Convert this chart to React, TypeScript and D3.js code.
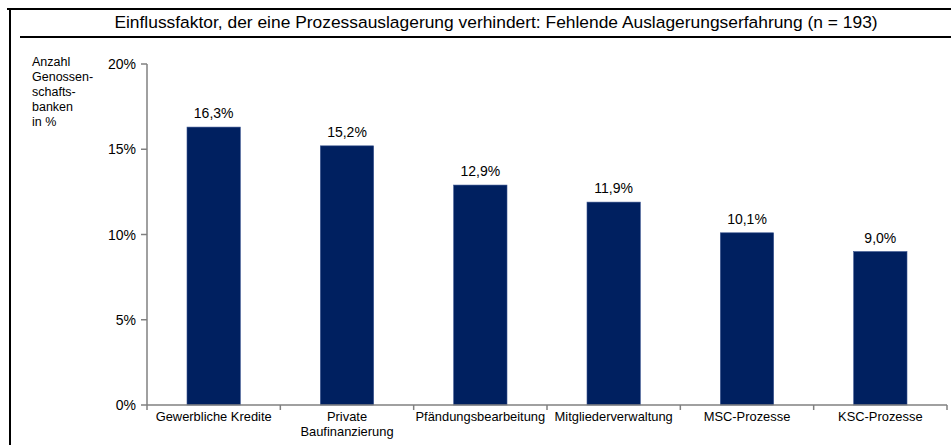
import React from "react";
import * as d3 from "d3";

const categories: string[][] = [
  ["Gewerbliche Kredite"],
  ["Private", "Baufinanzierung"],
  ["Pfändungsbearbeitung"],
  ["Mitgliederverwaltung"],
  ["MSC-Prozesse"],
  ["KSC-Prozesse"],
];
const values: number[] = [16.3, 15.2, 12.9, 11.9, 10.1, 9.0];
const yTicks: number[] = [0, 5, 10, 15, 20];
const title = "Einflussfaktor, der eine Prozessauslagerung verhindert: Fehlende Auslagerungserfahrung (n = 193)";
const yAxisTitle: string[] = ["Anzahl", "Genossen-", "schafts-", "banken", "in %"];

const W = 951;
const H = 445;
const font = "Liberation Sans, Arial, sans-serif";

export default function App() {
  const keys = categories.map((c) => c.join(" "));
  const x = d3.scaleBand<string>().domain(keys).range([147, 947]).paddingInner(0).paddingOuter(0);
  const y = d3.scaleLinear().domain([0, 20]).range([405, 64]);
  const bw = x.bandwidth() * 0.4;
  const fmt = (v: number) => v.toFixed(1).replace(".", ",") + "%";
  const boundaries = keys.map((k) => x(k)!).concat([947]);

  return (
    <svg width={W} height={H} style={{ position: "absolute", left: 0, top: 0, display: "block" }}>
      <rect x={0} y={0} width={W} height={H} fill="#fff" />
      {/* frame */}
      <line x1={7} x2={W} y1={9} y2={9} stroke="#000" strokeWidth={2} />
      <line x1={10} x2={10} y1={8} y2={H} stroke="#000" strokeWidth={2} />
      <line x1={20} x2={W} y1={37} y2={37} stroke="#000" strokeWidth={2} />
      <text x={496} y={28} textAnchor="middle" fontFamily={font} fontSize={17.4} fill="#000">
        {title}
      </text>
      {/* y axis title */}
      <text fontFamily={font} fontSize={12.5} fill="#000">
        {yAxisTitle.map((t, i) => (
          <tspan key={i} x={32} y={66 + i * 15}>
            {t}
          </tspan>
        ))}
      </text>
      {/* bars */}
      {values.map((v, i) => {
        const cx = x(keys[i])! + x.bandwidth() / 2;
        return (
          <g key={i}>
            <rect x={cx - bw / 2} y={y(v)} width={bw} height={y(0) - y(v)} fill="#002060" stroke="#3a5590" strokeWidth={0.6} />
            <text x={cx} y={y(v) - 9} textAnchor="middle" fontFamily={font} fontSize={14} fill="#000">
              {fmt(v)}
            </text>
          </g>
        );
      })}
      {/* y axis */}
      <line x1={147} x2={147} y1={y(20)} y2={y(0)} stroke="#808080" strokeWidth={1.5} />
      {yTicks.map((t) => (
        <g key={t}>
          <line x1={141} x2={147} y1={y(t)} y2={y(t)} stroke="#808080" strokeWidth={1.5} />
          <text x={136} y={y(t) + 5} textAnchor="end" fontFamily={font} fontSize={14} fill="#000">
            {t}%
          </text>
        </g>
      ))}
      {/* x axis */}
      <line x1={147} x2={947} y1={y(0)} y2={y(0)} stroke="#808080" strokeWidth={1.5} />
      {boundaries.map((b, i) => (
        <line key={i} x1={b} x2={b} y1={y(0)} y2={y(0) + 5} stroke="#808080" strokeWidth={1.5} />
      ))}
      {categories.map((c, i) => {
        const cx = x(keys[i])! + x.bandwidth() / 2;
        return (
          <text key={i} textAnchor="middle" fontFamily={font} fontSize={12.9} fill="#000">
            {c.map((line, j) => (
              <tspan key={j} x={cx} y={421 + j * 15}>
                {line}
              </tspan>
            ))}
          </text>
        );
      })}
    </svg>
  );
}
